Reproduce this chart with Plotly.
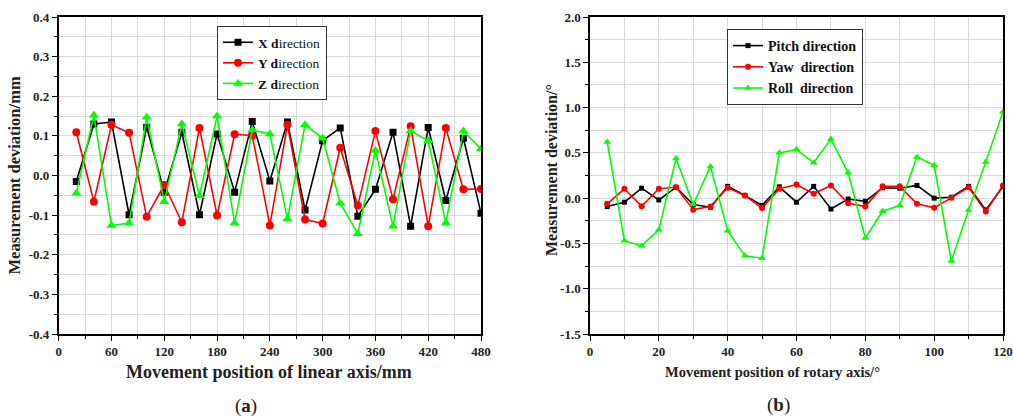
import plotly.graph_objects as go

W, H = 1013, 416

# ---------------- data (a) ----------------
lin_pos = [20, 40, 60, 80, 100, 120, 140, 160, 180, 200, 220, 240,
           260, 280, 300, 320, 340, 360, 380, 400, 420, 440, 460, 480]
x_dir = [-0.015, 0.130, 0.135, -0.099, 0.122, -0.042, 0.109, -0.099, 0.105, -0.042, 0.136, -0.014,
         0.135, -0.087, 0.088, 0.120, -0.103, -0.035, 0.109, -0.128, 0.121, -0.063, 0.094, -0.095]
y_dir = [0.109, -0.066, 0.128, 0.108, -0.104, -0.024, -0.118, 0.120, -0.101, 0.104, 0.101, -0.126,
         0.128, -0.111, -0.121, 0.070, -0.076, 0.112, -0.060, 0.124, -0.128, 0.120, -0.035, -0.034]
z_dir = [-0.045, 0.152, -0.126, -0.120, 0.147, -0.066, 0.130, -0.051, 0.150, -0.120, 0.115, 0.105,
         -0.110, 0.128, 0.094, -0.070, -0.147, 0.063, -0.128, 0.112, 0.088, -0.120, 0.112, 0.067]

# ---------------- data (b) ----------------
rot_pos = [5, 10, 15, 20, 25, 30, 35, 40, 45, 50, 55, 60,
           65, 70, 75, 80, 85, 90, 95, 100, 105, 110, 115, 120]
pitch = [-0.093, -0.045, 0.110, -0.020, 0.120, -0.070, -0.100, 0.130, 0.030, -0.080, 0.125, -0.045,
         0.130, -0.120, -0.010, -0.035, 0.115, 0.110, 0.140, 0.000, 0.010, 0.130, -0.130, 0.130]
yaw = [-0.063, 0.103, -0.090, 0.103, 0.120, -0.127, -0.093, 0.115, 0.030, -0.110, 0.105, 0.150,
       0.048, 0.140, -0.056, -0.093, 0.130, 0.130, -0.063, -0.107, 0.003, 0.120, -0.148, 0.140]
roll = [0.620, -0.470, -0.527, -0.350, 0.437, -0.070, 0.350, -0.360, -0.637, -0.663, 0.500, 0.537,
        0.392, 0.652, 0.280, -0.440, -0.145, -0.082, 0.455, 0.363, -0.693, -0.130, 0.400, 0.955]

# tick labels
xa_ticks = [0, 60, 120, 180, 240, 300, 360, 420, 480]
ya_ticks = [-0.4, -0.3, -0.2, -0.1, 0.0, 0.1, 0.2, 0.3, 0.4]
ya_text = ["-0.4", "-0.3", "-0.2", "-0.1", "0.0", "0.1", "0.2", "0.3", "0.4"]
xb_ticks = [0, 20, 40, 60, 80, 100, 120]
yb_ticks = [-1.5, -1.0, -0.5, 0.0, 0.5, 1.0, 1.5, 2.0]
yb_text = ["-1.5", "-1.0", "-0.5", "0.0", "0.5", "1.0", "1.5", "2.0"]

FONT = "Liberation Serif"
BLACK, RED, GREEN = "#000000", "#FF0000", "#00FF00"
GRID = "#d9d9d9"


def px(x):
    return x / W


def py(y):
    return 1 - y / H


fig = go.Figure()

def add(x, y, name, color, symbol, size, xa, ya, legend):
    fig.add_trace(go.Scatter(
        x=x, y=y, name=name, mode="lines+markers",
        line=dict(color=color, width=1.6),
        marker=dict(color=color, symbol=symbol, size=size),
        xaxis=xa, yaxis=ya, legend=legend))

add(lin_pos, x_dir, "<b>X d</b>irection", BLACK, "square", 7, "x", "y", "legend")
add(lin_pos, y_dir, "<b>Y d</b>irection", RED, "circle", 8, "x", "y", "legend")
add(lin_pos, z_dir, "<b>Z d</b>irection", GREEN, "triangle-up", 9, "x", "y", "legend")

add(rot_pos, pitch, "<b>Pitch direction</b>", BLACK, "square", 5, "x2", "y2", "legend2")
add(rot_pos, yaw, "<b>Yaw  direction</b>", RED, "circle", 6, "x2", "y2", "legend2")
add(rot_pos, roll, "<b>Roll  direction</b>", GREEN, "triangle-up", 7, "x2", "y2", "legend2")

ax_common = dict(
    showline=True, linecolor="#000000", linewidth=1.5, mirror=True,
    showgrid=True, gridcolor=GRID, gridwidth=1, zeroline=False,
    ticks="outside", ticklen=5, tickcolor="#000000", tickwidth=1.2,
    tickfont=dict(family=FONT, size=13, color="#222"),
    automargin=False,
)

yd = [py(334), py(17)]

fig.update_layout(
    width=W, height=H,
    margin=dict(l=0, r=0, t=0, b=0),
    paper_bgcolor="white", plot_bgcolor="white",
    font=dict(family=FONT, color="#222"),
    xaxis=dict(domain=[px(58.7), px(481)], range=[0, 480], tickvals=xa_ticks,
               ticktext=[f"<b>{v}</b>" for v in xa_ticks],
               minor=dict(dtick=30, tick0=0, showgrid=True, gridcolor=GRID, ticks="outside",
                          ticklen=3, tickcolor="#000"),
               anchor="y", **ax_common),
    yaxis=dict(domain=yd, range=[-0.4, 0.4], tickvals=ya_ticks,
               ticktext=[f"<b>{t}</b>" for t in ya_text],
               minor=dict(dtick=0.05, tick0=0, showgrid=True, gridcolor=GRID, ticks="outside",
                          ticklen=3, tickcolor="#000"),
               anchor="x", **ax_common),
    xaxis2=dict(domain=[px(590), px(1003)], range=[0, 120], tickvals=xb_ticks,
                ticktext=[f"<b>{v}</b>" for v in xb_ticks],
                minor=dict(dtick=10, tick0=0, showgrid=True, gridcolor=GRID, ticks="outside",
                           ticklen=3, tickcolor="#000"),
                anchor="y2", **ax_common),
    yaxis2=dict(domain=yd, range=[-1.5, 2.0], tickvals=yb_ticks,
                ticktext=[f"<b>{t}</b>" for t in yb_text],
                minor=dict(dtick=0.25, tick0=0, showgrid=True, gridcolor=GRID, ticks="outside",
                           ticklen=3, tickcolor="#000"),
                anchor="x2", **ax_common),
    legend=dict(x=px(217), y=py(26), xanchor="left", yanchor="top",
                bgcolor="white", bordercolor="#333", borderwidth=1,
                font=dict(family=FONT, size=13.5, color="#111"),
                tracegroupgap=0, itemwidth=30),
    legend2=dict(x=px(727), y=py(29), xanchor="left", yanchor="top",
                 bgcolor="white", bordercolor="#333", borderwidth=1,
                 font=dict(family=FONT, size=14, color="#111"),
                 tracegroupgap=0, itemwidth=30),
    showlegend=True,
)

annos = [
    dict(text="<b>Movement position of linear axis/mm</b>", x=px(269), y=py(372), size=18),
    dict(text="<b>Movement position of rotary axis/°</b>", x=px(772), y=py(372), size=14.5),
    dict(text="(<b>a</b>)", x=px(246), y=py(406), size=19),
    dict(text="(<b>b</b>)", x=px(778), y=py(405), size=19),
]
for a in annos:
    fig.add_annotation(text=a["text"], x=a["x"], y=a["y"], xref="paper", yref="paper",
                       showarrow=False, xanchor="center", yanchor="middle",
                       font=dict(family=FONT, size=a["size"], color="#222"))

fig.add_annotation(text="<b>Measurement deviation/mm</b>", x=px(14), y=py(175.5),
                   xref="paper", yref="paper", showarrow=False, textangle=-90,
                   xanchor="center", yanchor="middle",
                   font=dict(family=FONT, size=16.5, color="#222"))
fig.add_annotation(text="<b>Measurement deviation/°</b>", x=px(551), y=py(170),
                   xref="paper", yref="paper", showarrow=False, textangle=-90,
                   xanchor="center", yanchor="middle",
                   font=dict(family=FONT, size=16, color="#222"))

fig.write_html("out.html", config={"displayModeBar": False},
               post_script="document.body.style.margin='0';document.body.style.overflow='hidden';")
